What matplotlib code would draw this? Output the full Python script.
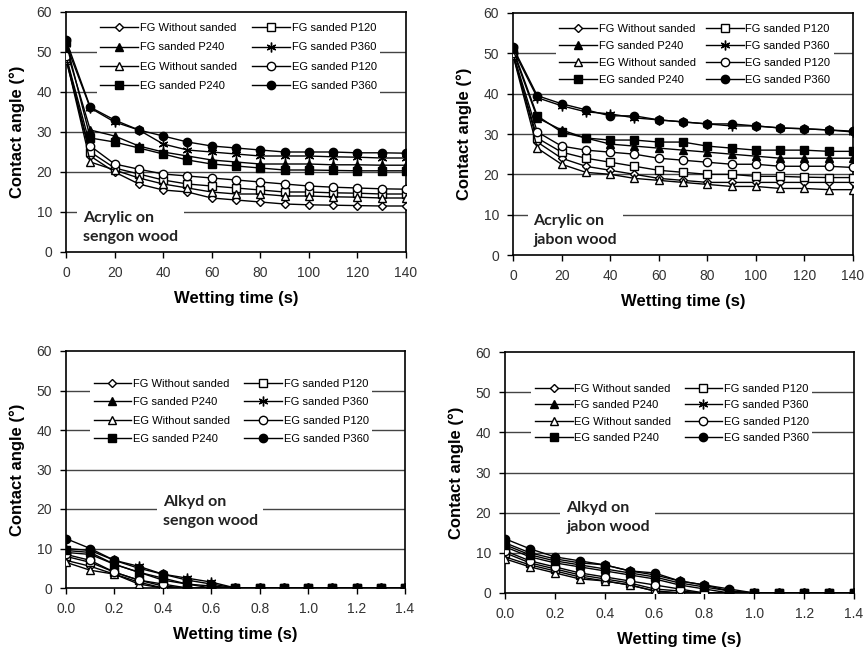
import matplotlib
matplotlib.use("Agg")
import matplotlib.pyplot as plt
import numpy as np

plt.rcParams['font.family'] = ['Liberation Sans', 'DejaVu Sans']

series_names = ["FG Without sanded", "FG sanded P120", "FG sanded P240", "FG sanded P360",
                "EG Without sanded", "EG sanded P120", "EG sanded P240", "EG sanded P360"]

t_acrylic = [0, 10, 20, 30, 40, 50, 60, 70, 80, 90, 100, 110, 120, 130, 140]
t_alkyd = [0.0, 0.1, 0.2, 0.3, 0.4, 0.5, 0.6, 0.7, 0.8, 0.9, 1.0, 1.1, 1.2, 1.3, 1.4]

# Acrylic on sengon wood
sengon_acr_fg_wo = [49, 24, 20, 17, 15.5, 15, 13.5, 13, 12.5, 12, 11.8, 11.7, 11.6, 11.5, 11.5]
sengon_acr_fg_120 = [48, 25, 21, 19.5, 18, 17, 16.5, 16, 15.5, 15, 15, 14.8, 14.7, 14.5, 14.5]
sengon_acr_fg_240 = [51, 30.5, 29, 26.5, 25, 24, 23, 22.5, 22, 22, 22, 21.8, 21.8, 21.7, 21.7]
sengon_acr_fg_360 = [52, 36, 32.5, 30.5, 27, 25.5, 25, 24.5, 24, 24, 24, 23.8, 23.7, 23.5, 23.5]
sengon_acr_eg_wo = [48.5, 22.5, 20.5, 18.5, 17, 16, 15, 14.5, 14.5, 14, 14, 13.8, 13.7, 13.5, 13.5]
sengon_acr_eg_120 = [49, 26.5, 22, 20.7, 19.5, 19, 18.5, 18, 17.5, 17, 16.5, 16.2, 16, 15.8, 15.7]
sengon_acr_eg_240 = [52.5, 28.5, 27.5, 26, 24.5, 23, 22, 21.5, 21, 20.5, 20.5, 20.4, 20.3, 20.3, 20.3]
sengon_acr_eg_360 = [53, 36.2, 33, 30.5, 29, 27.5, 26.5, 26, 25.5, 25, 25, 25, 24.8, 24.8, 24.7]

# Acrylic on jabon wood
jabon_acr_fg_wo = [50, 28, 24, 22, 21, 20, 19, 18.5, 18, 18, 18, 18, 18, 18, 18]
jabon_acr_fg_120 = [49.5, 29, 25.5, 24, 23, 22, 21, 20.5, 20, 20, 19.5, 19.5, 19.3, 19.2, 19.2]
jabon_acr_fg_240 = [50.5, 34, 31, 29, 27.5, 27, 26.5, 26, 25.5, 25, 24.5, 24, 24, 24, 24]
jabon_acr_fg_360 = [51, 39, 37, 35.5, 35, 34, 33.5, 33, 32.5, 32, 32, 31.5, 31.3, 31, 30.5]
jabon_acr_eg_wo = [49.5, 26.5, 22.5, 20.5, 20, 19, 18.5, 18, 17.5, 17, 17, 16.5, 16.5, 16.2, 16.2]
jabon_acr_eg_120 = [50, 30.5, 27, 26, 25.5, 25, 24, 23.5, 23, 22.5, 22.5, 22, 22, 22, 21.7]
jabon_acr_eg_240 = [51, 34.5, 30.5, 29, 28.5, 28.5, 28, 28, 27, 26.5, 26, 26, 26, 25.7, 25.7]
jabon_acr_eg_360 = [51.5, 39.5, 37.5, 36, 34.5, 34.5, 33.5, 33, 32.5, 32.5, 32, 31.5, 31.3, 31, 30.7]

# Alkyd on sengon wood
sengon_alk_fg_wo = [7, 5.5, 3.5, 1.5, 0, 0, 0, 0, 0, 0, 0, 0, 0, 0, 0]
sengon_alk_fg_120 = [8, 6.5, 4, 2, 0.5, 0, 0, 0, 0, 0, 0, 0, 0, 0, 0]
sengon_alk_fg_240 = [9, 8.5, 6, 4, 2, 1, 0, 0, 0, 0, 0, 0, 0, 0, 0]
sengon_alk_fg_360 = [10, 9.5, 7, 5.5, 3.5, 2.5, 1.5, 0, 0, 0, 0, 0, 0, 0, 0]
sengon_alk_eg_wo = [6.5, 4.5, 3.5, 1, 0, 0, 0, 0, 0, 0, 0, 0, 0, 0, 0]
sengon_alk_eg_120 = [8.5, 7, 4, 2, 1, 0, 0, 0, 0, 0, 0, 0, 0, 0, 0]
sengon_alk_eg_240 = [9.5, 9, 6, 4, 2.5, 1, 0.5, 0, 0, 0, 0, 0, 0, 0, 0]
sengon_alk_eg_360 = [12.5, 10, 7, 5, 3.5, 2, 1, 0, 0, 0, 0, 0, 0, 0, 0]

# Alkyd on jabon wood
jabon_alk_fg_wo = [9, 7, 5.5, 4, 3, 2, 0.5, 0, 0, 0, 0, 0, 0, 0, 0]
jabon_alk_fg_120 = [10, 7.5, 6, 4.5, 3.5, 2.5, 1, 0.5, 0, 0, 0, 0, 0, 0, 0]
jabon_alk_fg_240 = [11.5, 9, 7.5, 6.5, 5.5, 4.5, 3.5, 2, 1, 0, 0, 0, 0, 0, 0]
jabon_alk_fg_360 = [12.5, 10, 8.5, 7.5, 7, 5.5, 4.5, 3, 2, 0.5, 0, 0, 0, 0, 0]
jabon_alk_eg_wo = [8.5, 6.5, 5, 3.5, 3, 2, 0.5, 0, 0, 0, 0, 0, 0, 0, 0]
jabon_alk_eg_120 = [10.5, 8, 6.5, 5, 4, 3, 2, 1, 0, 0, 0, 0, 0, 0, 0]
jabon_alk_eg_240 = [12, 9.5, 8, 7, 6, 5, 4, 2.5, 1.5, 0.5, 0, 0, 0, 0, 0]
jabon_alk_eg_360 = [13.5, 11, 9, 8, 7, 5.5, 5, 3, 2, 1, 0, 0, 0, 0, 0]

panels = [
    (t_acrylic, [sengon_acr_fg_wo, sengon_acr_fg_120, sengon_acr_fg_240, sengon_acr_fg_360,
                 sengon_acr_eg_wo, sengon_acr_eg_120, sengon_acr_eg_240, sengon_acr_eg_360],
     "Acrylic on\nsengon wood"),
    (t_acrylic, [jabon_acr_fg_wo, jabon_acr_fg_120, jabon_acr_fg_240, jabon_acr_fg_360,
                 jabon_acr_eg_wo, jabon_acr_eg_120, jabon_acr_eg_240, jabon_acr_eg_360],
     "Acrylic on\njabon wood"),
    (t_alkyd, [sengon_alk_fg_wo, sengon_alk_fg_120, sengon_alk_fg_240, sengon_alk_fg_360,
               sengon_alk_eg_wo, sengon_alk_eg_120, sengon_alk_eg_240, sengon_alk_eg_360],
     "Alkyd on\nsengon wood"),
    (t_alkyd, [jabon_alk_fg_wo, jabon_alk_fg_120, jabon_alk_fg_240, jabon_alk_fg_360,
               jabon_alk_eg_wo, jabon_alk_eg_120, jabon_alk_eg_240, jabon_alk_eg_360],
     "Alkyd on\njabon wood"),
]

styles = [
    dict(marker='D', mfc='white', ms=4.5),
    dict(marker='s', mfc='white', ms=5.5),
    dict(marker='^', mfc='black', ms=6),
    dict(marker=(6, 2, 0), mfc='black', ms=7),
    dict(marker='^', mfc='white', ms=6),
    dict(marker='o', mfc='white', ms=6),
    dict(marker='s', mfc='black', ms=5.5),
    dict(marker='o', mfc='black', ms=6),
]

W, H = 867, 653
fig = plt.figure(figsize=(W / 100, H / 100), dpi=100)

# pixel boxes: left, top, right, bottom
boxes = [(66, 12, 406, 252), (513, 13, 853, 255), (66, 351, 405, 588), (505, 352, 854, 593)]
text_pos = [(0.05, 0.035), (0.06, 0.035), (0.285, 0.255), (0.175, 0.245)]
legend_anchor = [(0.075, 0.99), (0.11, 0.99), (0.055, 0.92), (0.06, 0.905)]
legend_spacing = [0.82, 0.62, 0.75, 0.58]
legend_colsp = [1.4, 0.9, 1.3, 1.2]

for i, ((t, ys, label), (l, tp, r, b)) in enumerate(zip(panels, boxes)):
    ax = fig.add_axes([l / W, 1 - b / H, (r - l) / W, (b - tp) / H])
    for yv, st, nm in zip(ys, styles, series_names):
        ax.plot(t, yv, color='black', lw=1.0, mec='black', mew=1.0, label=nm, zorder=3, **st)
    ax.set_ylim(0, 60)
    ax.set_yticks(range(0, 61, 10))
    if i < 2:
        ax.set_xlim(0, 140)
        ax.set_xticks(range(0, 141, 20))
    else:
        ax.set_xlim(0, 1.4)
        ax.set_xticks(np.arange(0, 1.41, 0.2))
        ax.set_xticklabels([f"{v:.1f}" for v in np.arange(0, 1.41, 0.2)])
    for g in range(10, 60, 10):
        ax.axhline(g, color='#444444', lw=1.0, zorder=1)
    for s in ax.spines.values():
        s.set_linewidth(1.2)
    ax.tick_params(axis='both', labelsize=10, colors='black', length=4, width=1, direction='out',
                   labelcolor='#333333', pad=6)
    ax.set_xlabel("Wetting time (s)", fontsize=12, fontweight='bold', labelpad=8)
    ax.set_ylabel("Contact angle (°)", fontsize=12, fontweight='bold', labelpad=8)
    handles, labels = ax.get_legend_handles_labels()
    order = [0, 2, 4, 6, 1, 3, 5, 7]
    leg = ax.legend([handles[k] for k in order], [labels[k] for k in order], ncol=2,
                    loc='upper left', bbox_to_anchor=legend_anchor[i], fontsize=8,
                    frameon=True, fancybox=False, edgecolor='none', framealpha=1,
                    handlelength=3.4, handletextpad=0.15, columnspacing=legend_colsp[i],
                    labelspacing=legend_spacing[i], borderpad=0.3)
    leg.set_zorder(2)
    ax.text(text_pos[i][0], text_pos[i][1], label, transform=ax.transAxes, fontsize=11.5,
            fontweight='bold', family=['Lato', 'DejaVu Sans'], color='#222222', linespacing=1.45,
            va='bottom', ha='left', zorder=2,
            bbox=dict(facecolor='white', edgecolor='none', pad=4))

fig.savefig("out.png", dpi=100)
